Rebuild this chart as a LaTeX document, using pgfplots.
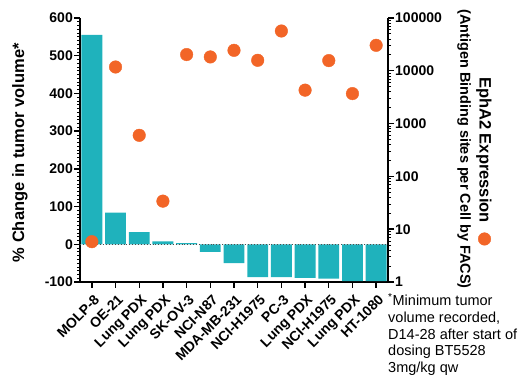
\documentclass[border=0pt]{standalone}
\usepackage{fontspec}
\setmainfont{Liberation Sans}
\usepackage{pgfplots}
\pgfplotsset{compat=1.18}
\definecolor{barteal}{RGB}{31,178,188}
\definecolor{dotorange}{RGB}{242,101,39}
\begin{document}
\begin{tikzpicture}
\path[use as bounding box] (-80pt,-97pt) rectangle (449pt,282pt);
\begin{axis}[
  at={(0pt,0pt)}, anchor=south west,
  width=308pt, height=264pt, scale only axis,
  xmin=-0.5, xmax=12.5,
  ymin=-100, ymax=600,
  axis x line*=bottom, axis y line*=left,
  axis line style={line width=1.6pt},
  xtick={0,...,12},
  xticklabels={MOLP-8,OE-21,Lung PDX,Lung PDX,SK-OV-3,NCI-N87,MDA-MB-231,NCI-H1975,PC-3,Lung PDX,NCI-H1975,Lung PDX,HT-1080},
  xticklabel style={rotate=45, anchor=north east, inner sep=1pt, xshift=-2pt, yshift=-4pt, font=\fontsize{14}{16}\selectfont\bfseries},
  ytick={-100,0,100,200,300,400,500,600},
  yticklabels={-100,0,100,200,300,400,500,600},
  yticklabel style={inner sep=1pt, font=\fontsize{14}{16}\selectfont\bfseries},
  minor y tick num=9,
  tick align=outside,
  major tick length=6pt, minor tick length=3pt,
  major tick style={line width=1.4pt, black},
  minor tick style={line width=0.8pt, black},
  ylabel={\% Change in tumor volume*},
  ylabel style={at={(axis description cs:-0.195,0.49)}, anchor=center, font=\fontsize{16.5}{18}\selectfont\bfseries},
  clip=false,
]
\addplot[ybar, bar width=0.88, fill=barteal, draw=none] coordinates {
(0,555) (1,84) (2,32) (3,8) (4,3) (5,-20) (6,-50) (7,-87) (8,-87) (9,-89) (10,-91) (11,-98) (12,-98)};
\addplot[dotted, line width=0.9pt, black!70] coordinates {(-0.5,0) (12.5,0)};
\end{axis}
\begin{axis}[
  at={(0pt,0pt)}, anchor=south west,
  width=308pt, height=264pt, scale only axis,
  xmin=-0.5, xmax=12.5,
  ymode=log, ymin=1, ymax=100000,
  axis x line=none, axis y line*=right,
  axis line style={line width=1.6pt},
  ytick={1,10,100,1000,10000,100000},
  yticklabels={1,10,100,1000,10000,100000},
  yticklabel style={inner sep=1pt, font=\fontsize{14}{16}\selectfont\bfseries},
  tick align=outside,
  major tick length=6pt, minor tick length=3pt,
  major tick style={line width=1.4pt, black},
  minor tick style={line width=0.8pt, black},
  clip=false,
  legend style={at={(1.315,0.163)}, anchor=center, draw=none, fill=none, inner sep=0pt, nodes={inner sep=0pt}},
  legend image code/.code={\draw[#1] plot coordinates {(0cm,0cm)};},
]
\addplot[only marks, mark=*, mark size=6.3pt, color=dotorange] coordinates {
(0,5.8) (1,11800) (2,600) (3,34) (4,20300) (5,18300) (6,24400) (7,15800) (8,56700) (9,4300) (10,15600) (11,3700) (12,30400)};
\addlegendentry{}
\end{axis}
\node[rotate=-90, anchor=center, font=\fontsize{16.5}{18}\selectfont\bfseries] at (404pt,132pt) {EphA2 Expression};
\node[rotate=-90, anchor=center, font=\fontsize{14.5}{17}\selectfont\bfseries] at (384pt,133pt) {(Antigen Binding sites per Cell by FACS)};
\node[anchor=north west, align=left, inner sep=0pt, font=\fontsize{14.5}{16.8}\selectfont] at (308pt,-11pt) {\textsuperscript{*}Minimum tumor\\volume recorded,\\D14-28 after start of\\dosing BT5528\\3mg/kg qw};
\end{tikzpicture}
\end{document}
